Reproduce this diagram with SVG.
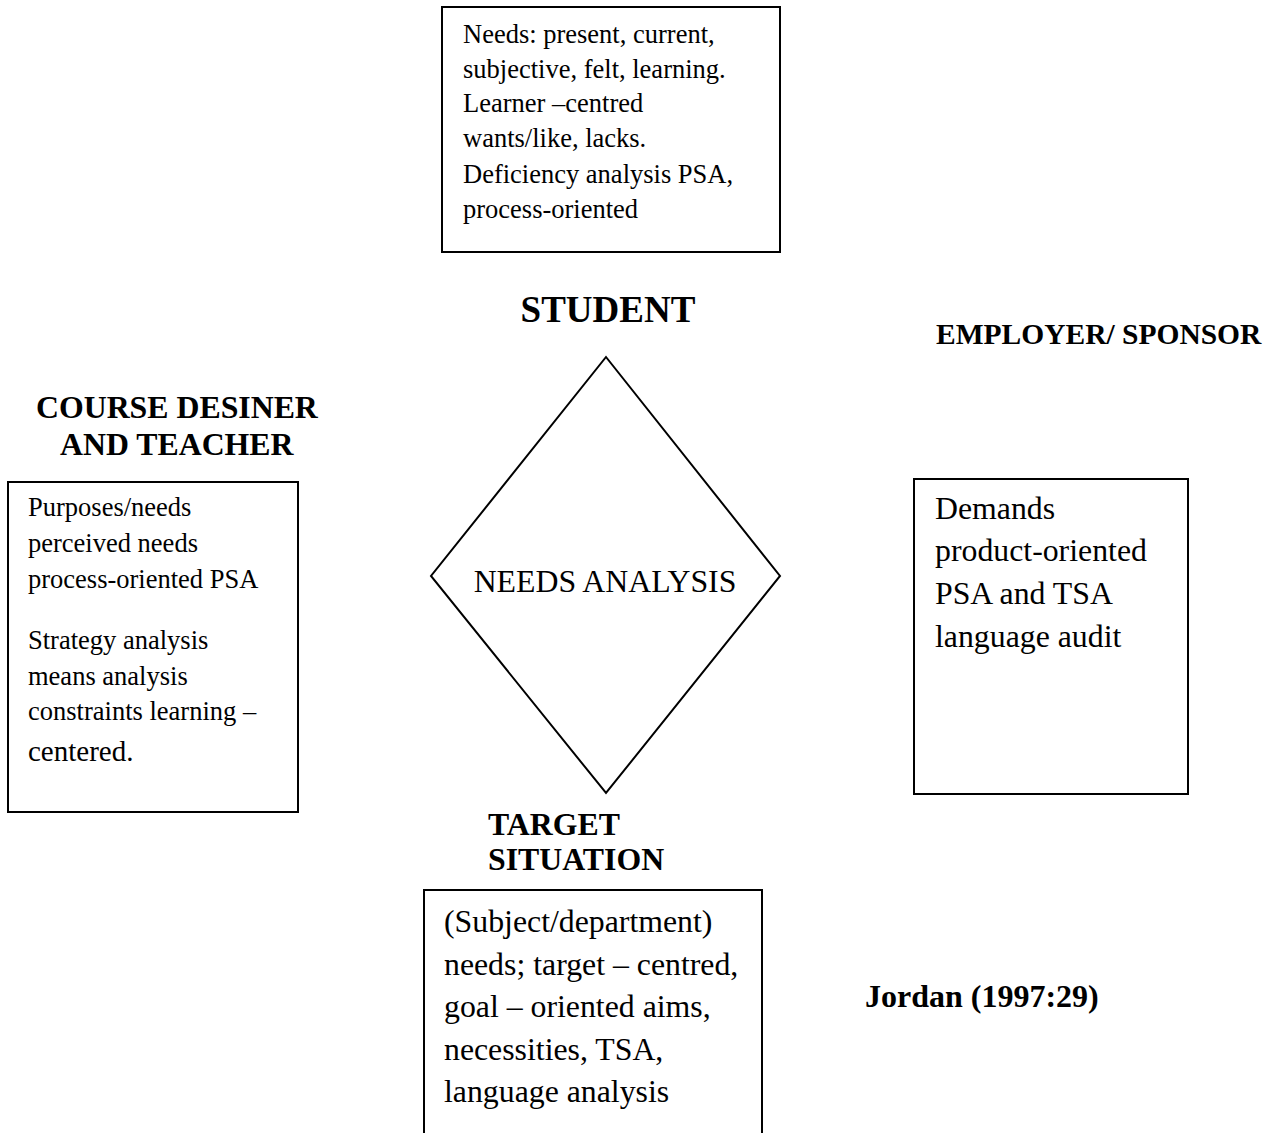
<svg xmlns="http://www.w3.org/2000/svg" width="1271" height="1133" viewBox="0 0 1271 1133">
<style>
text{font-family:"Liberation Serif","Times New Roman",serif;fill:#000}
.b{font-weight:bold}
.box{fill:#fff;stroke:#000;stroke-width:2}
</style>
<rect width="1271" height="1133" fill="#fff"/>
<g id="student-box">
<rect class="box" x="442" y="7" width="338" height="245"/>
<text font-size="26.5" x="463"><tspan x="463" y="43">Needs: present, current,</tspan><tspan x="463" y="78">subjective, felt, learning.</tspan><tspan x="463" y="112">Learner –centred</tspan><tspan x="463" y="147">wants/like, lacks.</tspan><tspan x="463" y="183">Deficiency analysis PSA,</tspan><tspan x="463" y="218">process-oriented</tspan></text>
</g>
<g id="student-label"><text class="b" font-size="37" x="608" y="322" text-anchor="middle">STUDENT</text></g>
<g id="employer-label"><text class="b" font-size="29.5" x="936" y="344">EMPLOYER/ SPONSOR</text></g>
<g id="course-label"><text class="b" font-size="31.8"><tspan x="36" y="418">COURSE DESINER</tspan><tspan x="60" y="455">AND TEACHER</tspan></text></g>
<g id="course-box">
<rect class="box" x="8" y="482" width="290" height="330"/>
<text font-size="26.5"><tspan x="28" y="516">Purposes/needs</tspan><tspan x="28" y="552">perceived needs</tspan><tspan x="28" y="588">process-oriented PSA</tspan><tspan x="28" y="649">Strategy analysis</tspan><tspan x="28" y="685">means analysis</tspan><tspan x="28" y="720">constraints learning –</tspan><tspan x="28" y="761" font-size="29">centered.</tspan></text>
</g>
<g id="needs-analysis">
<polygon points="606,357 780,576 606,793 431,576" fill="#fff" stroke="#000" stroke-width="2"/>
<text font-size="31.8" x="605" y="592" text-anchor="middle">NEEDS ANALYSIS</text>
</g>
<g id="employer-box">
<rect class="box" x="914" y="479" width="274" height="315"/>
<text font-size="31.8"><tspan x="935" y="519">Demands</tspan><tspan x="935" y="561">product-oriented</tspan><tspan x="935" y="604">PSA and TSA</tspan><tspan x="935" y="647">language audit</tspan></text>
</g>
<g id="target-label"><text class="b" font-size="31.8"><tspan x="488" y="835">TARGET</tspan><tspan x="488" y="870">SITUATION</tspan></text></g>
<g id="target-box">
<path d="M424,1133 V890 H762 V1133" fill="#fff" stroke="#000" stroke-width="2"/>
<text font-size="31.8"><tspan x="444" y="932">(Subject/department)</tspan><tspan x="444" y="975">needs; target – centred,</tspan><tspan x="444" y="1017">goal – oriented aims,</tspan><tspan x="444" y="1060">necessities, TSA,</tspan><tspan x="444" y="1102">language analysis</tspan></text>
</g>
<g id="citation"><text class="b" font-size="32" x="865" y="1007">Jordan (1997:29)</text></g>
<g id="connectors"></g>
</svg>
